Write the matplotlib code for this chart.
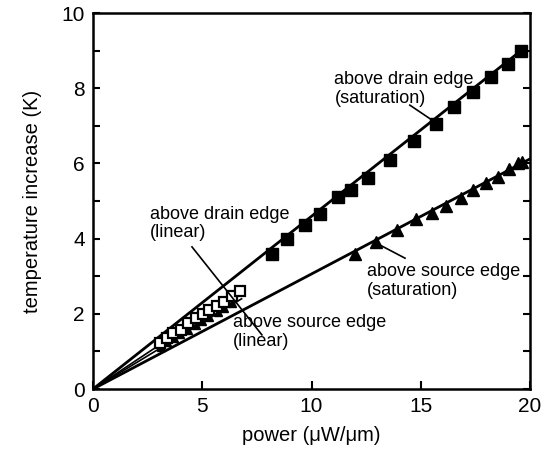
import matplotlib.pyplot as plt
import numpy as np

plt.rcParams['font.family'] = ['Liberation Sans', 'DejaVu Sans']

# above drain edge, saturation (filled squares)
drain_sat_x = [8.2, 8.9, 9.7, 10.4, 11.2, 11.8, 12.6, 13.6, 14.7, 15.7, 16.5, 17.4, 18.2, 19.0, 19.6]
drain_sat_y = [3.6, 4.0, 4.35, 4.65, 5.1, 5.3, 5.6, 6.1, 6.6, 7.05, 7.5, 7.9, 8.3, 8.65, 9.0]
# above source edge, saturation (filled triangles)
src_sat_x = [12.0, 12.95, 13.9, 14.8, 15.5, 16.15, 16.85, 17.4, 18.0, 18.55, 19.05, 19.45, 19.65]
src_sat_y = [3.6, 3.9, 4.23, 4.52, 4.68, 4.87, 5.08, 5.3, 5.48, 5.64, 5.85, 6.0, 6.05]
# above drain edge, linear (open squares)
drain_lin_x = [3.07, 3.39, 3.66, 4.03, 4.35, 4.71, 5.03, 5.31, 5.67, 6.0, 6.36, 6.73]
drain_lin_y = [1.22, 1.36, 1.49, 1.57, 1.76, 1.89, 2.0, 2.1, 2.21, 2.31, 2.47, 2.61]
# above source edge, linear (filled triangles, mostly hidden)
src_lin_x = [3.1, 3.4, 3.7, 4.0, 4.35, 4.7, 5.0, 5.3, 5.7, 6.0, 6.35]
src_lin_y = [1.12, 1.24, 1.35, 1.45, 1.58, 1.7, 1.8, 1.92, 2.05, 2.15, 2.3]

# fitted lines through the origin
fit_x_sat = [0, 19.7]
fit_drain_sat = [0, 9.05]
fit_x_src = [0, 20.0]
fit_src_sat = [0, 6.12]
fit_x_lin = [0, 6.8]
fit_drain_lin = [0, 2.62]
fit_src_lin = [0, 2.4]

fig = plt.figure(figsize=(5.49, 4.65), dpi=100)
ax = fig.add_axes([0.1694, 0.1634, 0.796, 0.8086])

ax.plot(fit_x_sat, fit_drain_sat, color='black', lw=2)
ax.plot(fit_x_src, fit_src_sat, color='black', lw=2)
ax.plot(fit_x_lin, fit_drain_lin, color='black', lw=1.2)
ax.plot(fit_x_lin, fit_src_lin, color='black', lw=1.2)

ax.plot(drain_sat_x, drain_sat_y, 's', color='black', ms=8, ls='none')
ax.plot(src_sat_x, src_sat_y, '^', color='black', ms=8.5, ls='none')
ax.plot(src_lin_x, src_lin_y, '^', color='black', ms=6, ls='none')
ax.plot(drain_lin_x, drain_lin_y, 's', mfc='white', mec='black', mew=1.6, ms=6.5, ls='none')

# labels with pointer lines
fs = 13
ax.text(11.05, 7.98, 'above drain edge\n(saturation)', fontsize=fs, va='center', linespacing=1.1)
ax.plot([14.5, 15.65], [7.55, 7.1], color='black', lw=1.2)
ax.text(12.55, 2.87, 'above source edge\n(saturation)', fontsize=fs, va='center', linespacing=1.1)
ax.plot([14.28, 13.13], [3.48, 3.83], color='black', lw=1.2)
ax.text(2.6, 4.41, 'above drain edge\n(linear)', fontsize=fs, va='center', linespacing=1.1)
ax.text(6.4, 1.52, 'above source edge\n(linear)', fontsize=fs, va='center', linespacing=1.1)
ax.plot([4.53, 7.73], [3.78, 1.44], color='black', lw=1.2)

ax.set_xlim(0, 20)
ax.set_ylim(0, 10)
ax.set_xticks([0, 5, 10, 15, 20])
ax.set_yticks(np.arange(0, 11, 2))
ax.set_yticks(np.arange(0, 11, 1), minor=True)
ax.tick_params(axis='both', which='both', direction='in', width=1.5, labelsize=15)
ax.tick_params(axis='y', which='both', right=True, length=5, pad=6)
ax.tick_params(axis='x', length=6, pad=6)
for s in ax.spines.values():
    s.set_linewidth(1.8)

ax.set_xlabel('power (\u03bcW/\u03bcm)', fontsize=14.5, labelpad=7)
ax.set_ylabel('temperature increase (K)', fontsize=14.5, labelpad=14)

fig.savefig('out.png', dpi=100)
